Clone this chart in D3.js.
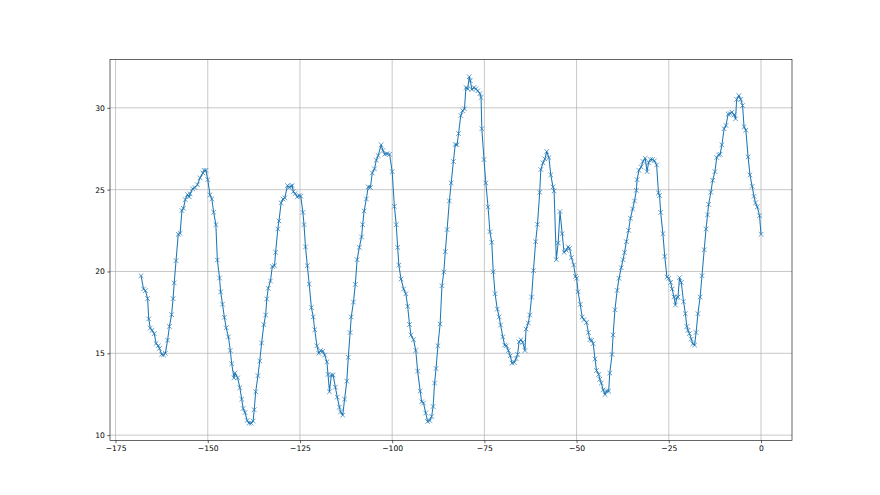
<!DOCTYPE html>
<html><head><meta charset="utf-8">
<script src="https://cdn.jsdelivr.net/npm/d3@7"></script>
<style>body{margin:0;background:#fff}svg{display:block}</style>
</head><body>
<svg id="chart" width="880" height="495"></svg>
<script>
const xValues = [-168.1,-167.4,-166.9,-166.3,-166.0,-165.6,-165.1,-164.5,-164.0,-163.4,-163.1,-162.5,-162.0,-161.5,-160.9,-160.4,-159.8,-159.4,-159.1,-158.6,-158.0,-157.5,-157.0,-156.6,-156.1,-155.5,-155.0,-154.8,-154.1,-153.5,-152.8,-152.1,-151.3,-151.0,-150.5,-150.0,-149.4,-148.9,-148.4,-147.8,-147.4,-146.8,-146.5,-146.0,-145.5,-145.0,-144.4,-143.9,-143.5,-142.9,-142.6,-141.9,-141.3,-140.8,-140.4,-139.9,-139.3,-138.8,-138.2,-137.7,-137.4,-137.0,-136.4,-135.9,-135.4,-134.8,-134.3,-134.0,-133.6,-133.0,-132.5,-131.9,-131.6,-131.0,-130.7,-130.1,-129.6,-129.1,-128.4,-127.9,-127.5,-127.1,-126.8,-126.3,-125.7,-125.2,-124.8,-124.2,-123.9,-123.5,-123.0,-122.5,-121.9,-121.4,-121.0,-120.4,-119.9,-119.4,-118.8,-118.3,-117.7,-117.4,-117.0,-116.5,-116.0,-115.4,-114.9,-114.3,-114.0,-113.4,-112.9,-112.3,-111.9,-111.4,-111.1,-110.5,-110.0,-109.5,-108.9,-108.3,-108.0,-107.6,-107.0,-106.5,-105.9,-105.4,-104.8,-104.3,-103.8,-103.0,-102.5,-102.0,-101.4,-100.7,-100.0,-99.4,-98.9,-98.5,-98.2,-97.6,-96.9,-96.3,-95.8,-95.3,-94.9,-94.2,-93.6,-93.1,-92.4,-92.0,-91.5,-90.9,-90.4,-89.8,-89.3,-88.9,-88.5,-88.1,-87.6,-87.0,-86.5,-86.0,-85.6,-85.1,-84.5,-84.0,-83.4,-82.9,-82.4,-82.0,-81.4,-80.9,-80.4,-80.0,-79.5,-79.1,-78.8,-78.4,-77.8,-77.3,-76.8,-76.2,-75.9,-75.7,-75.1,-74.6,-74.0,-73.5,-73.0,-72.6,-72.1,-71.5,-71.0,-70.6,-70.0,-69.5,-69.0,-68.5,-68.0,-67.5,-66.9,-66.4,-66.0,-65.6,-65.1,-64.6,-64.0,-63.7,-63.1,-62.7,-62.2,-61.7,-61.1,-60.6,-60.0,-59.7,-59.1,-58.6,-58.1,-57.5,-57.0,-56.4,-56.1,-55.5,-55.0,-54.5,-53.9,-53.4,-52.8,-52.3,-51.9,-51.4,-50.8,-50.3,-50.0,-49.6,-49.0,-48.5,-48.0,-47.3,-46.8,-46.4,-45.9,-45.5,-45.0,-44.6,-44.0,-43.7,-43.3,-42.8,-42.3,-41.9,-41.3,-41.0,-40.4,-40.1,-39.6,-39.0,-38.5,-37.9,-37.4,-37.0,-36.5,-35.9,-35.4,-34.8,-34.3,-33.8,-33.6,-33.1,-32.5,-32.0,-31.4,-30.9,-30.5,-30.0,-29.4,-28.9,-28.3,-27.8,-27.5,-27.2,-26.6,-26.1,-25.5,-25.0,-24.5,-24.1,-23.6,-23.2,-22.8,-22.5,-22.1,-21.6,-21.0,-20.5,-20.1,-19.8,-19.4,-18.9,-18.5,-18.0,-17.6,-17.1,-16.5,-16.0,-15.4,-14.9,-14.5,-14.2,-13.6,-13.1,-12.5,-12.0,-11.5,-11.1,-10.6,-10.0,-9.5,-8.9,-8.4,-7.9,-7.3,-6.9,-6.6,-6.0,-5.5,-5.0,-4.6,-4.1,-3.5,-3.0,-2.4,-1.9,-1.5,-1.0,-0.4,0.0];
const yValues = [19.74,18.93,18.83,18.34,17.10,16.54,16.40,16.20,15.60,15.46,15.30,14.93,14.90,15.00,15.80,16.64,17.36,18.34,19.30,20.66,22.27,22.33,23.72,23.86,24.39,24.70,24.56,24.74,25.05,25.13,25.30,25.72,26.02,26.18,26.18,25.61,24.68,24.43,23.62,22.86,20.70,19.60,18.75,18.00,17.20,16.56,16.00,15.17,14.36,13.50,13.80,13.50,12.90,12.20,11.63,11.38,10.89,10.73,10.73,10.86,11.55,12.65,13.63,14.53,15.63,16.75,17.34,18.32,18.97,19.42,20.31,20.35,21.17,22.60,23.09,24.19,24.43,24.50,25.25,25.14,25.20,25.25,24.88,24.76,24.56,24.64,24.60,23.61,22.86,21.50,20.35,19.23,17.79,17.22,16.44,15.46,15.00,15.17,15.13,14.89,14.48,13.71,12.65,13.67,13.67,12.93,12.32,11.71,11.42,11.22,12.20,13.30,14.75,16.27,17.22,18.13,19.21,20.72,21.47,22.11,22.86,23.70,24.43,25.17,25.13,26.02,26.27,26.80,27.08,27.74,27.39,27.16,27.20,27.16,26.10,23.98,22.86,21.47,20.39,19.54,18.93,18.64,17.87,16.76,16.11,15.83,15.17,13.91,12.69,12.04,11.96,11.35,10.83,10.89,11.14,11.75,13.18,14.07,15.46,16.79,19.13,19.97,21.21,22.56,24.31,25.41,26.72,27.76,27.74,28.43,29.53,29.82,29.94,31.24,31.16,31.90,31.65,31.12,31.24,31.16,31.04,30.87,30.63,28.72,26.84,25.41,23.94,22.43,21.78,19.98,18.64,17.70,17.22,16.73,16.00,15.50,15.46,15.17,14.85,14.40,14.44,14.68,14.93,15.70,15.83,15.67,15.17,16.48,16.85,17.34,18.44,20.05,21.82,22.88,24.84,26.23,26.64,26.88,27.33,26.96,25.90,25.17,24.92,20.72,21.74,23.66,22.31,21.17,21.29,21.50,21.41,20.84,20.40,19.70,19.58,18.76,17.99,17.22,17.05,16.89,16.27,15.83,15.79,15.59,14.65,13.95,13.71,13.42,13.18,12.77,12.48,12.69,12.69,13.79,14.93,16.12,17.66,18.84,19.58,20.23,20.72,21.17,21.82,22.51,23.25,23.82,24.31,24.96,25.61,26.18,26.39,26.72,26.92,26.10,26.64,26.84,26.84,26.76,26.51,24.80,24.64,23.61,22.31,20.92,19.66,19.58,19.33,18.93,18.44,17.95,18.40,18.44,19.62,19.33,18.15,17.42,16.64,16.40,16.20,15.87,15.58,15.50,16.27,17.42,18.44,19.74,21.33,22.60,23.46,24.10,24.84,25.57,26.10,26.96,27.12,27.16,27.74,28.72,28.92,29.61,29.65,29.73,29.57,29.33,30.51,30.75,30.51,30.14,28.84,28.63,27.00,25.90,25.20,24.59,24.19,23.94,23.41,22.27];
const xTicks = [-175,-150,-125,-100,-75,-50,-25,0];
const yTicks = [10,15,20,25,30];

(function(){
const L = 110, R = 792, T = 59.4, B = 440.5;
const svg = d3.select("#chart");
const n = Math.min(xValues.length, yValues.length);
const data = xValues.slice(0,n).map((x,i)=>({x, y:yValues[i]}));

const xmin = d3.min(xValues), xmax = d3.max(xValues);
const ymin = d3.min(yValues), ymax = d3.max(yValues);
const xm = (xmax-xmin)*0.05, ym = (ymax-ymin)*0.05;
const x = d3.scaleLinear().domain([xmin-xm, xmax+xm]).range([L, R]);
const y = d3.scaleLinear().domain([ymin-ym, ymax+ym]).range([B, T]);

const font = "DejaVu Sans";
svg.append("g").selectAll("line").data(xTicks).join("line")
  .attr("x1", d=>x(d)).attr("x2", d=>x(d)).attr("y1", T).attr("y2", B)
  .attr("stroke", "#b0b0b0").attr("stroke-width", 0.7);
svg.append("g").selectAll("line").data(yTicks).join("line")
  .attr("y1", d=>y(d)).attr("y2", d=>y(d)).attr("x1", L).attr("x2", R)
  .attr("stroke", "#b0b0b0").attr("stroke-width", 0.7);

const line = d3.line().x(d=>x(d.x)).y(d=>y(d.y));
svg.append("path").datum(data).attr("d", line)
  .attr("fill","none").attr("stroke","#1f77b4").attr("stroke-width",1.05).attr("stroke-linejoin","round");

const ms = 2.3;
const mk = svg.append("g").attr("stroke","#1f77b4").attr("stroke-width",0.7);
mk.selectAll("path").data(data).join("path")
  .attr("d", d=>{const cx=x(d.x), cy=y(d.y);
    return `M${cx-ms},${cy-ms}L${cx+ms},${cy+ms}M${cx-ms},${cy+ms}L${cx+ms},${cy-ms}`;})
  .attr("fill","none");

const xAxis = d3.axisBottom(x).tickValues(xTicks).tickSize(2.7).tickPadding(2.5).tickFormat(d=>d<0?"\u2212"+Math.abs(d):d);
const gx = svg.append("g").attr("transform",`translate(0,${B})`).call(xAxis);
const yAxis = d3.axisLeft(y).tickValues(yTicks).tickSize(2.7).tickPadding(2.5);
const gy = svg.append("g").attr("transform",`translate(${L},0)`).call(yAxis);
[gx,gy].forEach(g=>{
  g.select(".domain").remove();
  g.selectAll(".tick line").attr("stroke","#000").attr("stroke-width",0.6);
  g.selectAll("text").attr("font-family",font).attr("font-size",7.6).attr("fill","#000");
});

svg.append("rect").attr("x",L).attr("y",T).attr("width",R-L).attr("height",B-T)
  .attr("fill","none").attr("stroke","#000").attr("stroke-width",0.6);
})();
</script>
</body></html>
